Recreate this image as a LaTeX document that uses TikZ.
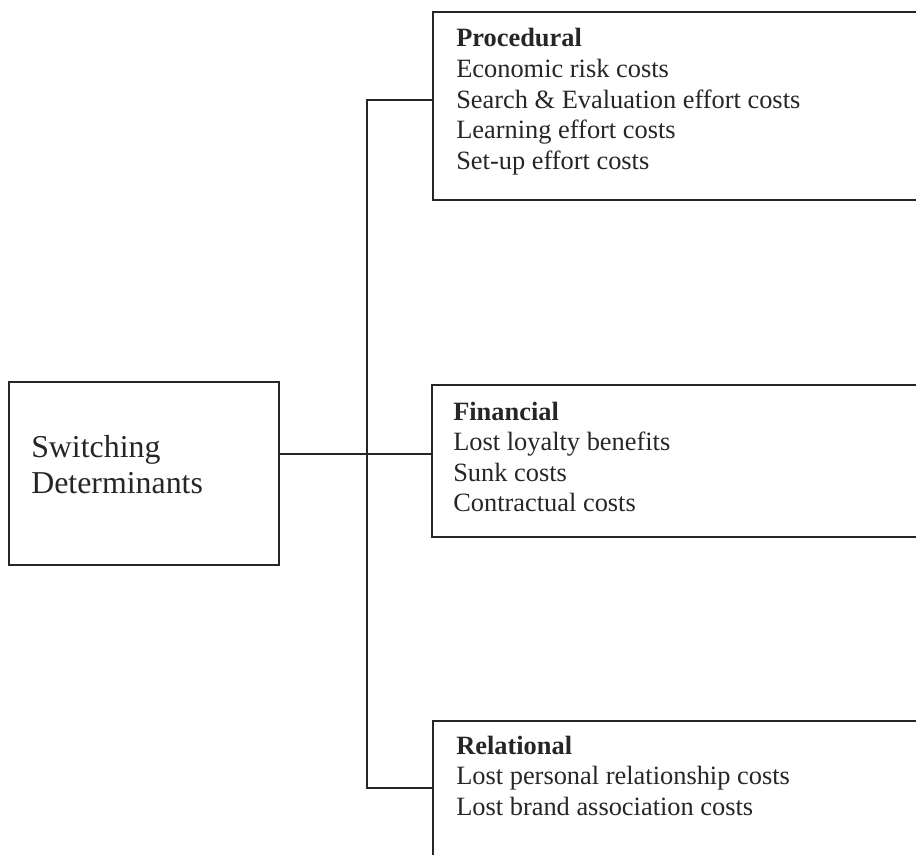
\documentclass[tikz,border=0pt]{standalone}
\usepackage{fontspec}
\setmainfont{Liberation Serif}
\usetikzlibrary{fit}
\begin{document}
\begin{tikzpicture}[x=0.75pt,y=-0.75pt,
  frame/.style={draw=black!85,line width=1.4pt,rectangle,inner sep=0pt},
  wire/.style={draw=black!85,line width=1.3pt},
  txt/.style={inner sep=0pt,anchor=base west,text=black!85},
  bodyfont/.style={font=\fontsize{19.8}{22.9}\selectfont},
  bigfont/.style={font=\fontsize{23.9}{27.7}\selectfont}]
\useasboundingbox (0,0) rectangle (916,855);
\clip (0,0) rectangle (916,855);

% boxes (the three category boxes run past the right and bottom edges)
\node[frame,fit={(9,382) (279,565)}] (sd) {};
\node[frame,fit={(433,12) (940,200)}] (proc) {};
\node[frame,fit={(432,385) (940,537)}] (fin) {};
\node[frame,fit={(433,721) (940,880)}] (rel) {};

% junction points of the bracket
\coordinate (jt) at (367,100);
\coordinate (jm) at (367,454);
\coordinate (jb) at (367,788);

% connectors
\draw[wire] (sd.east |- jm) -- (fin.west |- jm);
\draw[wire] (proc.west |- jt) -- (jt) -- (jb) -- (rel.west |- jb);

% labels
\node[txt,bigfont] (sdtext) at (31,457)
  {\begin{tabular}[t]{@{}l@{}}Switching\\Determinants\end{tabular}};
\node[txt,bodyfont] (proctext) at (456,47)
  {\begin{tabular}[t]{@{}l@{}}\textbf{Procedural}\\Economic risk costs\\Search \& Evaluation effort costs\\Learning effort costs\\Set-up effort costs\end{tabular}};
\node[txt,bodyfont] (fintext) at (453,420)
  {\begin{tabular}[t]{@{}l@{}}\textbf{Financial}\\Lost loyalty benefits\\Sunk costs\\Contractual costs\end{tabular}};
\node[txt,bodyfont] (reltext) at (456,754)
  {\begin{tabular}[t]{@{}l@{}}\textbf{Relational}\\Lost personal relationship costs\\Lost brand association costs\end{tabular}};
\end{tikzpicture}
\end{document}
